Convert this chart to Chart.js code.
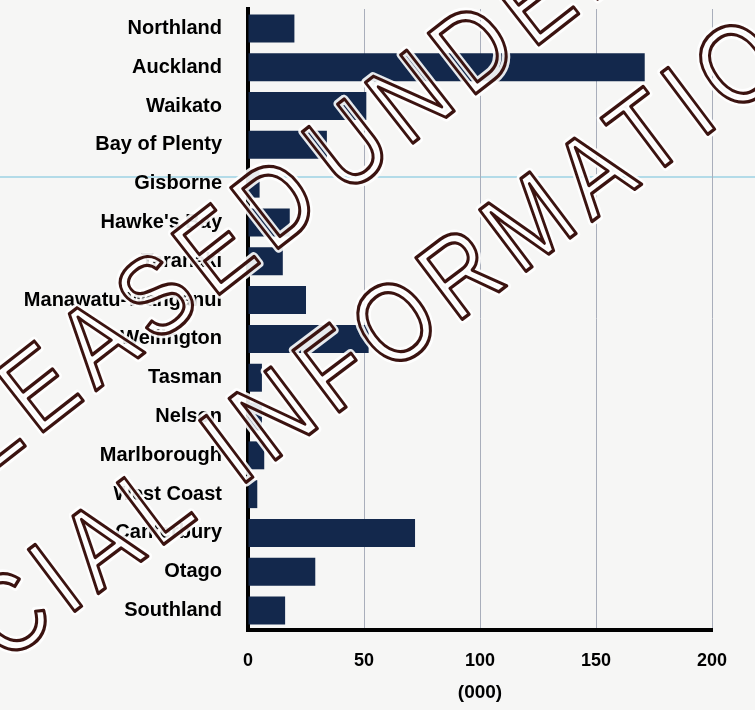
<!DOCTYPE html>
<html lang="en">
<head>
  <meta charset="UTF-8">
  <title>Regions (000)</title>
  <script src="https://cdn.jsdelivr.net/npm/chart.js"></script>
  <style>
    html, body { margin: 0; padding: 0; background: #f6f6f5; }
    #wrap { position: relative; width: 755px; height: 710px; }
    /* faint scanner line across the page */
    .scanline { position: absolute; left: 0; top: 176px; width: 755px; height: 2px; background: #b3dbe8; }
    #regionChart { position: relative; }
  </style>
</head>
<body>
  <div id="wrap">
    <div class="scanline"></div>
    <canvas id="regionChart" width="755" height="710"></canvas>
  </div>

  <script>
    // data, thousands
    const regions = [
      'Northland', 'Auckland', 'Waikato', 'Bay of Plenty', 'Gisborne',
      "Hawke's Bay", 'Taranaki', 'Manawatu-Wanganui', 'Wellington', 'Tasman',
      'Nelson', 'Marlborough', 'West Coast', 'Canterbury', 'Otago', 'Southland'
    ];
    const values = [20, 171, 51, 34, 5, 18, 15, 25, 52, 6, 6, 7, 4, 72, 29, 16];
    const tickValues = [0, 50, 100, 150, 200];
    const axisTitle = '(000)';
    // stamp text, split at the letter used to place it
    const stampLines = [['RELEASED', 'UNDER THE'], ['OFFICIAL INFO', 'RMATION ACT']];

    const barColor = '#13284c';
    const labelFont = '"Liberation Sans", Arial, sans-serif';

    // stamp drawn over the chart, like the scan
    const stamp = {
      id: 'stamp',
      afterDraw(chart) {
        const ctx = chart.ctx;
        // [parts, anchor x, anchor y, angle, gap before anchor]
        const rows = [
          [stampLines[0], 344, 197, -38, 14],
          [stampLines[1], 456, 324, -37, 0]
        ];
        rows.forEach(([parts, x, y, deg, gap]) => {
          ctx.save();
          ctx.font = '112px ' + labelFont;
          ctx.letterSpacing = '14px';
          ctx.textBaseline = 'alphabetic';
          ctx.lineJoin = 'round';
          ctx.translate(x, y);
          ctx.rotate(deg * Math.PI / 180);
          ctx.scale(0.84, 1);
          [['rgba(255,255,255,0.9)', 9], ['#3b1310', 3.4]].forEach(([col, w]) => {
            ctx.strokeStyle = col;
            ctx.lineWidth = w;
            ctx.textAlign = 'right';
            ctx.strokeText(parts[0], -gap, 0);
            ctx.textAlign = 'left';
            ctx.strokeText(parts[1], 0, 0);
          });
          ctx.restore();
        });
      }
    };

    const ctx = document.getElementById('regionChart').getContext('2d');
    const chart = new Chart(ctx, {
      type: 'bar',
      data: {
        labels: regions,
        datasets: [{
          data: values,
          backgroundColor: barColor,
          borderWidth: 0,
          barPercentage: 0.9,
          categoryPercentage: 0.8
        }]
      },
      options: {
        indexAxis: 'y',
        responsive: false,
        animation: false,
        layout: { padding: { top: 9, right: 43, bottom: 0, left: 0 } },
        plugins: {
          legend: { display: false },
          tooltip: { enabled: false }
        },
        scales: {
          x: {
            min: 0,
            max: 200,
            afterFit: (s) => { s.height = 80; },
            afterBuildTicks: (s) => { s.ticks = tickValues.map(v => ({ value: v })); },
            grid: { color: '#a9aebb', lineWidth: 1, drawTicks: false },
            border: { color: '#000', width: 4 },
            ticks: {
              color: '#000',
              padding: 20,
              font: { family: labelFont, size: 18, weight: 'bold' }
            },
            title: {
              display: true,
              text: axisTitle,
              color: '#000',
              padding: { top: 0, bottom: 6 },
              font: { family: labelFont, size: 19, weight: 'bold' }
            }
          },
          y: {
            afterFit: (s) => { s.width = 248; s.paddingTop = 0; s.paddingBottom = 0; },
            grid: { display: false, drawTicks: false },
            border: { color: '#000', width: 4 },
            ticks: {
              color: '#000',
              padding: 26,
              autoSkip: false,
              font: { family: labelFont, size: 20, weight: 'bold' }
            }
          }
        }
      },
      plugins: [stamp]
    });
  </script>
</body>
</html>
